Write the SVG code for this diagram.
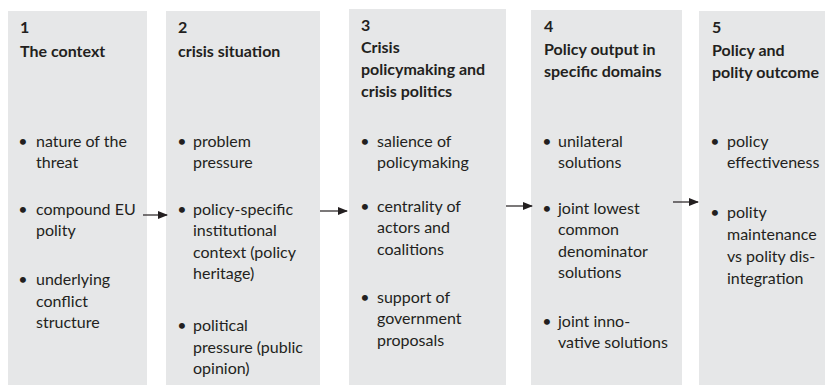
<svg xmlns="http://www.w3.org/2000/svg" width="825" height="385" viewBox="0 0 825 385">
  <style>
    .box { fill: #e6e7e8; }
    text { font-family: "Lato", "Open Sans", sans-serif; font-size: 16px; fill: #231f20; }
    .t { font-weight: bold; }
    .b { text-anchor: middle; }
    .conn { stroke: #231f20; stroke-width: 1.2; fill: none; marker-end: url(#ah); }
  </style>
  <defs>
    <marker id="ah" markerWidth="10" markerHeight="8" refX="9" refY="4" orient="auto" markerUnits="userSpaceOnUse">
      <path d="M0,0 L10,4 L0,8 Z" fill="#231f20"/>
    </marker>
  </defs>
  <rect width="825" height="385" fill="#ffffff"/>

  <g id="node1">
    <rect class="box" x="8" y="11" width="139" height="374"/>
    <text class="t" x="20" y="33">1</text>
    <text class="t" x="20" y="57">The context</text>
    <text class="b" x="23" y="146.5">•</text>
    <text x="36" y="146.5">nature of the</text>
    <text x="36" y="167.5">threat</text>
    <text class="b" x="23" y="214.5">•</text>
    <text x="36" y="214.5">compound EU</text>
    <text x="36" y="236">polity</text>
    <text class="b" x="23" y="285">•</text>
    <text x="36" y="285">underlying</text>
    <text x="36" y="306.5">conflict</text>
    <text x="36" y="328">structure</text>
  </g>

  <g id="node2">
    <rect class="box" x="166" y="11" width="154" height="374"/>
    <text class="t" x="178" y="33">2</text>
    <text class="t" x="178" y="57">crisis situation</text>
    <text class="b" x="182" y="146.5">•</text>
    <text x="193" y="146.5">problem</text>
    <text x="193" y="167.5">pressure</text>
    <text class="b" x="182" y="214.5">•</text>
    <text x="193" y="214.5">policy-specific</text>
    <text x="193" y="236">institutional</text>
    <text x="193" y="257.5">context (policy</text>
    <text x="193" y="279">heritage)</text>
    <text class="b" x="182" y="331">•</text>
    <text x="193" y="331">political</text>
    <text x="193" y="352.5">pressure (public</text>
    <text x="193" y="374">opinion)</text>
  </g>

  <g id="node3">
    <rect class="box" x="349" y="9" width="157" height="376"/>
    <text class="t" x="361" y="31">3</text>
    <text class="t" x="361" y="53">Crisis</text>
    <text class="t" x="361" y="75">policymaking and</text>
    <text class="t" x="361" y="97">crisis politics</text>
    <text class="b" x="365" y="146.5">•</text>
    <text x="377" y="146.5">salience of</text>
    <text x="377" y="167.5">policymaking</text>
    <text class="b" x="365" y="211.5">•</text>
    <text x="377" y="211.5">centrality of</text>
    <text x="377" y="233">actors and</text>
    <text x="377" y="254.5">coalitions</text>
    <text class="b" x="365" y="302.5">•</text>
    <text x="377" y="302.5">support of</text>
    <text x="377" y="324">government</text>
    <text x="377" y="345.5">proposals</text>
  </g>

  <g id="node4">
    <rect class="box" x="531" y="10" width="151" height="375"/>
    <text class="t" x="544" y="32">4</text>
    <text class="t" x="544" y="55">Policy output in</text>
    <text class="t" x="544" y="77">specific domains</text>
    <text class="b" x="547" y="146.5">•</text>
    <text x="558" y="146.5">unilateral</text>
    <text x="558" y="167.5">solutions</text>
    <text class="b" x="547" y="213.5">•</text>
    <text x="558" y="213.5">joint lowest</text>
    <text x="558" y="235">common</text>
    <text x="558" y="256.5">denominator</text>
    <text x="558" y="278">solutions</text>
    <text class="b" x="547" y="326.5">•</text>
    <text x="558" y="326.5">joint inno-</text>
    <text x="558" y="348">vative solutions</text>
  </g>

  <g id="node5">
    <rect class="box" x="699" y="11" width="126" height="374"/>
    <text class="t" x="712" y="33">5</text>
    <text class="t" x="712" y="56">Policy and</text>
    <text class="t" x="712" y="78">polity outcome</text>
    <text class="b" x="715" y="146.5">•</text>
    <text x="727" y="146.5">policy</text>
    <text x="727" y="167.5">effectiveness</text>
    <text class="b" x="715" y="218">•</text>
    <text x="727" y="218">polity</text>
    <text x="727" y="240">maintenance</text>
    <text x="727" y="262">vs polity dis-</text>
    <text x="727" y="284">integration</text>
  </g>

  <g id="connectors">
    <line class="conn" x1="143" y1="215" x2="167" y2="215"/>
    <line class="conn" x1="320" y1="211" x2="347" y2="211"/>
    <line class="conn" x1="506" y1="206" x2="532" y2="206"/>
    <line class="conn" x1="673" y1="202" x2="698" y2="202"/>
  </g>
</svg>
